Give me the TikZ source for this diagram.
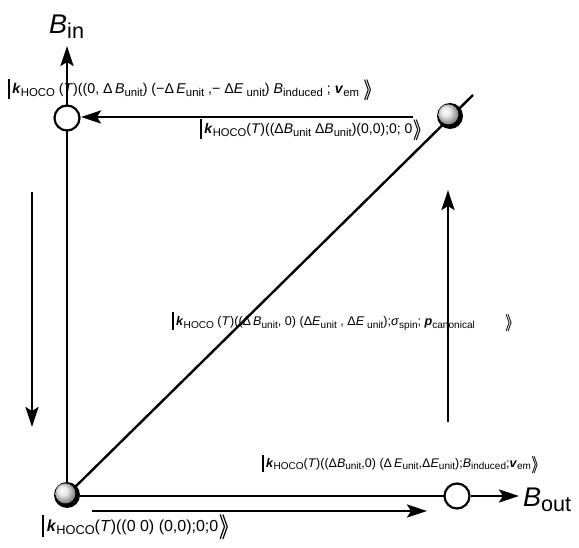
\documentclass[tikz,border=0pt]{standalone}
\usepackage{fontspec}
\setmainfont{Liberation Sans}
\usetikzlibrary{arrows.meta}
\newcommand{\ketbar}{\rule[-0.35em]{1.9pt}{1.4em}\,}
\newcommand{\kk}{\textbf{\textit{k}}}
\newcommand{\sbs}[1]{\raisebox{-0.35ex}{\fontsize{0.8em}{1em}\selectfont #1}}
\newcommand{\rket}{\raisebox{-0.12em}{\scalebox{1.25}[1.45]{\boldmath$\rangle\mkern-5mu\rangle$}}}
\newcommand{\fsz}[1]{\fontsize{#1}{#1}\selectfont}
\begin{document}
\begin{tikzpicture}[x=1pt,y=-1pt,
  ax/.style={line width=2.4pt},
  arr/.style={line width=2.6pt,-{Stealth[length=20pt,width=13pt,inset=4pt]}},
  ballnode/.style={circle,fill=black,minimum size=26pt,inner sep=0pt,
    path picture={\shade[ball color=gray!25!white] ([xshift=-1.6pt,yshift=1.6pt]path picture bounding box.center) circle (10pt);}},
  hollow/.style={circle,draw=black,line width=2.2pt,fill=white,minimum size=25pt,inner sep=0pt},
  ket/.style={anchor=west,inner sep=0pt},
  axlabel/.style={inner sep=0pt,font=\fontsize{27}{30}\selectfont}]
\useasboundingbox (0,0) rectangle (579,548);

% coordinates
\coordinate (Ytip) at (67,46);
\coordinate (Dend) at (473,95);
\coordinate (Xtip) at (519,496);
\coordinate (Ltail) at (413,117);
\coordinate (Lhead) at (81,117);
\coordinate (Bs) at (92,511);
\coordinate (Be) at (427,511);
\coordinate (Ds) at (32,192);
\coordinate (De) at (32,427);
\coordinate (Us) at (448,422);
\coordinate (Ue) at (448,190);

% lines
\draw[ax] (67,495) -- (Dend);
\draw[arr] (67,495) -- (Ytip);
\draw[ax] (67,496) -- (457,496);
\draw[arr] (Ltail) -- (Lhead);
\draw[arr] (Bs) -- (Be);
\draw[arr] (Ds) -- (De);
\draw[arr] (Us) -- (Ue);

% nodes
\node[ballnode] (O) at (67,495) {};
\node[ballnode] (TR) at (450,116) {};
\node[hollow] (TL) at (67,118) {};
\node[hollow] (BR) at (457,496) {};
\draw[arr] (BR) -- (Xtip);

\node[axlabel,anchor=west] (Bin) at (49,27) {\textit{B}\sbs{in}};
\node[axlabel,anchor=west] (Bout) at (523,500) {\textit{B}\sbs{out}};

\node[ket,font=\fsz{14.2}] (k1) at (8,90) {\ketbar\kk\sbs{HOCO} (\textit{T})((0, Δ\,\textit{B}\sbs{unit}) (−Δ\,\textit{E}\sbs{unit} ,− Δ\textit{E}\sbs{ unit}) \textit{B}\sbs{induced} ; \textbf{\textit{v}}\sbs{em} \rket};
\node[ket,font=\fsz{14}] (k2) at (200,130) {\ketbar\kk\sbs{HOCO}(\textit{T})((Δ\textit{B}\sbs{unit} Δ\textit{B}\sbs{unit})(0,0);0; 0\rket};
\node[ket,font=\fsz{12.6}] (k3) at (172,322) {\ketbar\kk\sbs{HOCO} (\textit{T})((Δ\,\textit{B}\sbs{unit}, 0) (Δ\textit{E}\sbs{unit} , Δ\textit{E}\sbs{ unit});\textit{σ}\sbs{spin}; \textbf{\textit{p}}\sbs{canonical}\hspace{30pt}\rket};
\node[ket,font=\fsz{12.5}] (k4) at (262,464) {\ketbar\kk\sbs{HOCO}(\textit{T})((Δ\textit{B}\sbs{unit},0) (Δ\,\textit{E}\sbs{unit},Δ\textit{E}\sbs{unit});\textit{B}\sbs{induced};\textbf{\textit{v}}\sbs{em}\rket};
\node[ket,font=\fsz{16}] (k5) at (42,527) {\ketbar\kk\sbs{HOCO}(\textit{T})((0 0) (0,0);0;0\rket};
\end{tikzpicture}
\end{document}
